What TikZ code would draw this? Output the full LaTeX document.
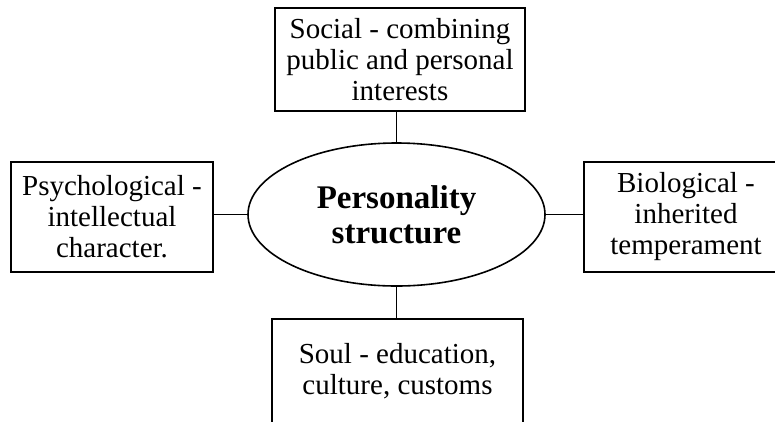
\documentclass[tikz,border=0pt]{standalone}
\usepackage{fontspec}
\setmainfont{Liberation Serif}
\usetikzlibrary{shapes.geometric}
\begin{document}
\begin{tikzpicture}[x=1pt, y=-1pt, line width=1.6pt,
  part/.style={rectangle, draw, inner sep=0pt, align=center,
    font=\fontsize{29}{31}\selectfont},
  core/.style={ellipse, draw, inner sep=0pt, align=center,
    minimum width=297, minimum height=143,
    font=\fontsize{33}{35}\selectfont\bfseries}]
\useasboundingbox (0,0) rectangle (775,421) ;
\clip (0,0) rectangle (775,421) ;
\draw (396.5,214.5) node[core](pers) {Personality\\structure} ;
  \draw (400,59.5) node[part, minimum width=250, minimum height=103](soc)
    {Social - combining\\public and personal\\interests} ;
  \draw (112,217) node[part, minimum width=202, minimum height=110](psy)
    {Psychological -\\intellectual\\character.} ;
  \draw (686,217) node[part, minimum width=204, minimum height=110](bio)
    {Biological -\\inherited\\temperament} ;
  \draw (397.5,371) node[part, minimum width=251, minimum height=104](soul)
    {Soul - education,\\culture, customs} ;
\draw (pers.north) -- (pers.north |- soc.south) ;
\draw (pers.west) -- (pers.west -| psy.east) ;
\draw (pers.east) -- (pers.east -| bio.west) ;
\draw (pers.south) -- (pers.south |- soul.north) ;
\end{tikzpicture}
\end{document}
